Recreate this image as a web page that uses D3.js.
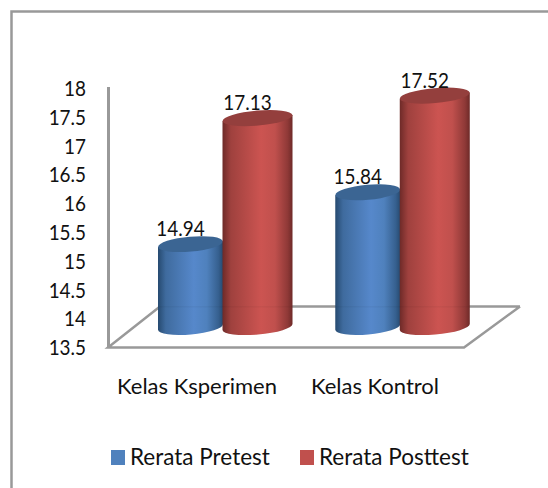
<!DOCTYPE html>
<html><head><meta charset="utf-8">
<script src="https://cdn.jsdelivr.net/npm/d3@7"></script>
<style>html,body{margin:0;padding:0;background:#fff}svg{display:block}
text{font-family:"Lato","Liberation Sans",sans-serif;fill:#111}</style>
</head><body><svg id="c" width="548" height="488"></svg>
<script>
const categories = ["Kelas Ksperimen", "Kelas Kontrol"];
const seriesNames = ["Rerata Pretest", "Rerata Posttest"];
const pretest = [14.94, 15.84];
const posttest = [17.13, 17.52];
const tickValues = [13.5, 14, 14.5, 15, 15.5, 16, 16.5, 17, 17.5, 18];
const baseColors = ["#4f81bd", "#c0504d"];
const lightColors = ["#5688cb", "#cc5451"];
const darkColors = ["#264a70", "#6e2a28"];
const topColors = ["#3b6593", "#943f3d"];

const svg = d3.select("#c");
const depth = 20;
const y = d3.scaleLinear().domain([13.5, 18]).range([327, 68]);
const x0 = d3.scaleBand().domain(categories).range([158, 470]).paddingInner(0.24);
// perspective: the rear-facing series is drawn a little narrower than the front one
const x1 = d3.scaleOrdinal().domain(seriesNames).range([0, 64.5]);
const barW = d3.scaleOrdinal().domain(seriesNames).range([65, 70]);
const labelX = d3.scaleBand().domain(categories).range([108, 464]);
const lineColor = "#999";
const narrow = (sel, k) => sel.each(function () {
  d3.select(this).attr("textLength", this.getComputedTextLength() * k).attr("lengthAdjust", "spacingAndGlyphs");
});

// frame
svg.append("path").attr("d", "M11.5,488V11.5H548").attr("fill", "none").attr("stroke", lineColor).attr("stroke-width", 2.5);

// gradients
const defs = svg.append("defs");
baseColors.forEach((c, i) => {
  const g = defs.append("linearGradient").attr("id", "g" + i);
  [[0, darkColors[i]], [0.12, d3.interpolateRgb(darkColors[i], c)(0.6)], [0.55, lightColors[i]], [0.75, c], [0.93, d3.interpolateRgb(darkColors[i], c)(0.4)], [1, darkColors[i]]]
    .forEach(s => g.append("stop").attr("offset", s[0]).attr("stop-color", s[1]));
});

// floor and wall line
const floor = d3.line();
svg.append("path").attr("d", floor([[520, 306.5], [464, 347.5], [108, 347.5], [160, 306.5], [520, 306.5]]))
  .attr("fill", "#fff").attr("stroke", lineColor).attr("stroke-width", 2.5);
svg.append("path").attr("d", floor([[108.5, y(18) + depth - 1], [108.5, y(13.5) + depth + 1]]))
  .attr("stroke", lineColor).attr("stroke-width", 3).attr("fill", "none");

// y axis
const axis = d3.axisLeft(d3.scaleLinear().domain([13.5, 18]).range([y(13.5) + depth, y(18) + depth]))
  .tickValues(tickValues).tickSize(0).tickPadding(0).tickFormat(d => String(d));
const ag = svg.append("g").attr("transform", "translate(86,0)").call(axis);
ag.select(".domain").remove();
ag.selectAll("text").style("font-size", "21px").attr("dy", "0.36em").call(narrow, 0.9);

// cylinders
const tilt = -5, ry = 7.5;
[pretest, posttest].forEach((vals, si) => {
  const name = seriesNames[si];
  const g = svg.append("g");
  categories.forEach((cat, ci) => {
    const left = x0(cat) + x1(name), w = barW(name), rx = w / 2;
    const dy = rx * Math.sin(-tilt * Math.PI / 180);
    const cx = left + rx, top = y(vals[ci]), bot = y(13.5);
    g.append("path")
      .attr("d", `M${left},${bot + dy}A${rx},${ry} ${tilt} 0 0 ${left + w},${bot - dy}L${left + w},${top - dy}L${left},${top + dy}Z`)
      .attr("fill", `url(#g${si})`);
    // faint trace of the floor's back edge showing through the bar
    g.append("rect").attr("x", left).attr("y", 306).attr("width", w).attr("height", 1.5)
      .attr("fill", "#000").attr("opacity", 0.035);
    g.append("ellipse").attr("cx", 0).attr("cy", 0).attr("rx", rx).attr("ry", ry)
      .attr("transform", `translate(${cx},${top}) rotate(${tilt})`).attr("fill", topColors[si]);
    svg.append("text").attr("class", "val").attr("x", cx - 10).attr("y", top - 8)
      .attr("text-anchor", "middle").style("font-size", "21px").text(vals[ci].toFixed(2)).call(narrow, 0.9);
  });
});
svg.selectAll("text.val").raise();

// category labels
svg.selectAll("text.cat").data(categories).join("text").attr("class", "cat")
  .attr("x", d => labelX(d) + labelX.bandwidth() / 2).attr("y", 394)
  .attr("text-anchor", "middle").style("font-size", "22px").text(d => d);

// legend
const legendX = [111, 300];
seriesNames.forEach((n, i) => {
  svg.append("rect").attr("x", legendX[i]).attr("y", 450).attr("width", 14).attr("height", 15).attr("fill", baseColors[i]);
  svg.append("text").attr("x", legendX[i] + 19).attr("y", 465).style("font-size", "22.5px").text(n);
});
</script></body></html>
